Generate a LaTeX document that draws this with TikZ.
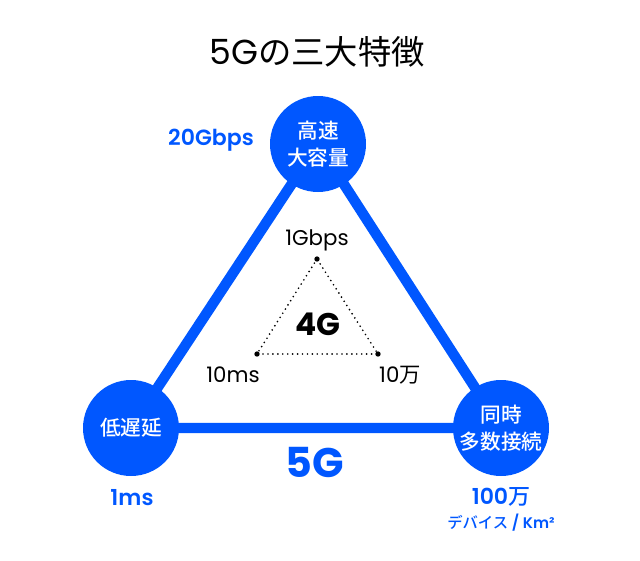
\documentclass[tikz,border=0pt]{standalone}
\usepackage{fontspec}
\setmainfont{Poppins}
\newfontfamily\popsemi{Poppins SemiBold}
\newfontfamily\jp{Noto Sans CJK JP}
\newfontfamily\jpm{Noto Sans CJK JP Medium}
\usepackage{xcolor}
\usepackage{tikz}
\usetikzlibrary{positioning,calc,backgrounds}
\definecolor{FiveBlue}{HTML}{0057FF}

\begin{document}
\begin{tikzpicture}[x=0.75pt,y=-0.75pt,
  feat/.style={circle,fill=FiveBlue,minimum size=72pt,inner sep=0pt,text=white,align=center,
    font=\jpm\fontsize{15.5}{20.5}\selectfont},
  val/.style={text=FiveBlue,font=\popsemi\fontsize{16.5}{18}\selectfont},
  old/.style={font=\fontsize{16}{18}\selectfont},
  gdot/.style={circle,fill=black,inner sep=0pt,minimum size=4pt},
  edge5/.style={FiveBlue,line width=7.8pt},
  edge4/.style={line width=1.4pt,line cap=round,dash pattern=on 0pt off 3.7pt}]
  \useasboundingbox (0,0) rectangle (640,561);
  \node (title) at (317,52) {\fontsize{26}{30}\selectfont 5G\jp\fontsize{25}{30}\selectfont の三大特徴};
  % the three features of 5G
  \node[feat] (speed) at (318,144) {高速\\大容量};
  \node[feat] (lat)   at (131,428) {低遅延};
  \node[feat] (conn)  at (501,428) {同時\\多数接続};
  \begin{scope}[on background layer]
    \draw[edge5] (lat.center) -- (speed.center) -- (conn.center) -- cycle;
  \end{scope}
  \node[val] (rate) at (211,140) {20Gbps};
  \node[val] (delay) at (132,498) {1ms};
  \node[val] (dev) at (501,497) {100{\jpm 万}};
  \node[text=FiveBlue,font=\popsemi\fontsize{11.5}{13}\selectfont,below=-1.5pt of dev] (unit) {{\jpm デバイス} / Km²};
  \node[text=FiveBlue,font=\bfseries\fontsize{31}{34}\selectfont] (five) at (315,462) {5G};
  % 4G for comparison
  \node[gdot] (g1) at (317,259) {};
  \node[gdot] (g2) at (257,354) {};
  \node[gdot] (g3) at (378,354) {};
  \draw[edge4] (g1.center) -- (g2.center) -- (g3.center) -- cycle;
  \node[old] (l1) at (317,240) {1Gbps};
  \node[old] (l2) at (233,375) {10ms};
  \node[old] (l3) at (400,375) {10{\jp 万}};
  \node[font=\bfseries\fontsize{23.5}{26}\selectfont] (four) at (318,324) {4G};
\end{tikzpicture}
\end{document}
